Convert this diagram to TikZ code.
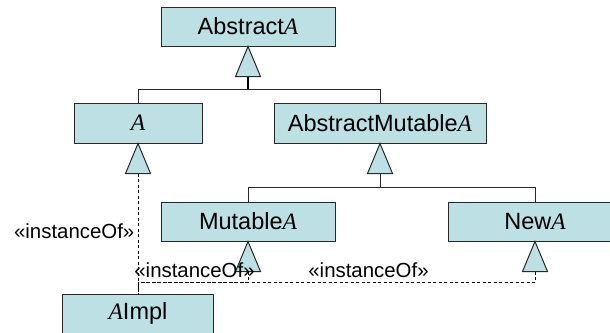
\documentclass[tikz,border=0pt]{standalone}
\usepackage{fontspec}
\setmainfont{Liberation Sans}
\newfontfamily\serifA{Liberation Serif}
\usetikzlibrary{calc}
\newcommand\italA{{\serifA\itshape A}}
\definecolor{boxfill}{RGB}{188,224,227}
\definecolor{edge}{RGB}{40,40,40}
\tikzset{
  cls/.style={draw=edge, line width=1pt, fill=boxfill, minimum height=39pt, inner sep=0pt,
              font=\fontsize{23.5}{28}\selectfont},
  tri/.style={draw=edge, line width=1pt, fill=boxfill},
  gen/.style={draw=edge, line width=1pt},
  stem/.style={draw=black, line width=2pt},
  inst/.style={draw=black, line width=1pt, dash pattern=on 3pt off 2.5pt},
  lbl/.style={inner sep=0pt, font=\fontsize{20.4}{24}\selectfont}
}
\begin{document}
\begin{tikzpicture}[x=1pt,y=-1pt]
\clip (0,0) rectangle (610,332);
\fill[white] (0,0) rectangle (610,332);
% classes
\node[cls, minimum width=174pt] (abs) at (248,26.5) {Abstract\italA};
\node[cls, minimum width=128pt, minimum height=40pt] (a) at (138,123) {\italA};
\node[cls, minimum width=212pt, minimum height=40pt] (ama) at (380,123) {AbstractMutable\italA};
\node[cls, minimum width=174pt] (mut) at (248,221.5) {Mutable\italA};
\node[cls, minimum width=174pt] (new) at (535,221.5) {New\italA};
\node[cls, minimum width=151pt] (impl) at (138,313.5) {\italA Impl};
% generalization: A, AbstractMutableA -> AbstractA
\coordinate (absb) at ($(abs.south)+(0,30)$);
\draw[stem] (absb) -- ++(0,13) coordinate (absj);
\draw[gen] (absj) -| (a.north);
\draw[gen] (absj) -| (ama.north);
\draw[tri] (abs.south) -- ++(-12.5,30) -- ++(25,0) -- cycle;
% generalization: MutableA, NewA -> AbstractMutableA
\coordinate (amab) at ($(ama.south)+(0,30)$);
\draw[gen] (amab) -- ++(0,14) coordinate (amaj);
\draw[gen] (amaj) -| (mut.north);
\draw[gen] (amaj) -| (new.north);
\draw[tri] (ama.south) -- ++(-12.5,30) -- ++(25,0) -- cycle;
% instanceOf dashed
\coordinate (ab) at ($(a.south)+(0,30)$);
\coordinate (mb) at ($(mut.south)+(0,30)$);
\coordinate (nb) at ($(new.south)+(0,30)$);
\draw[inst] (ab) -- (impl.north);
\draw[inst] (mb) -- ++(0,11) -| (impl.north);
\draw[inst] (nb) -- ++(0,11) -| (impl.north);
\draw[tri] (a.south) -- ++(-12.5,30) -- ++(25,0) -- cycle;
\draw[tri] (mut.south) -- ++(-12.5,30) -- ++(25,0) -- cycle;
\draw[tri] (new.south) -- ++(-12.5,30) -- ++(25,0) -- cycle;
% labels
\node[lbl, anchor=east] (l1) at (134.5,231) {«instanceOf»};
\node[lbl] (l2) at (194.5,270) {«instanceOf»};
\node[lbl] (l3) at (368.5,270) {«instanceOf»};
\end{tikzpicture}
\end{document}
